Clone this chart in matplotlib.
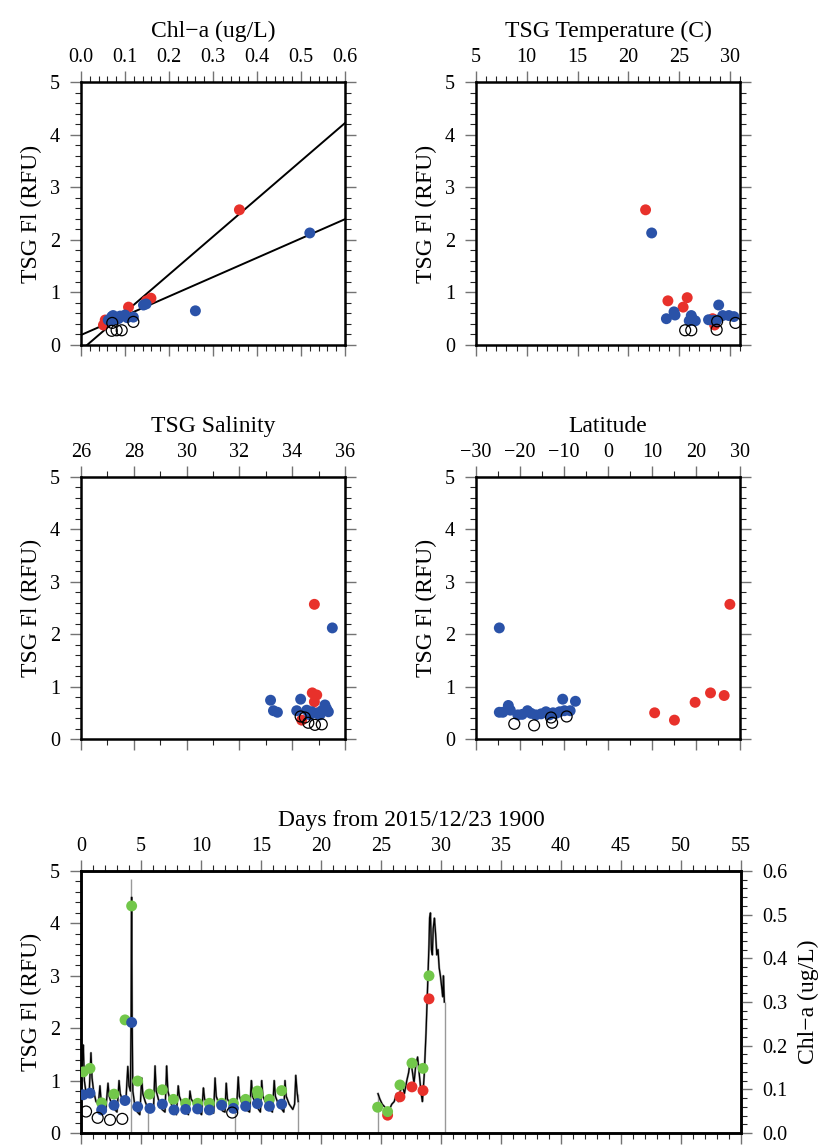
import numpy as np
import matplotlib
matplotlib.use("Agg")
import matplotlib.pyplot as plt
from matplotlib.ticker import MultipleLocator, FormatStrFormatter

plt.rcParams['font.family'] = ['Liberation Serif', 'DejaVu Serif']

RED = '#e8312b'
BLUE = '#2a52a8'
GREEN = '#72c74a'

# --- panel 1: Chl-a vs TSG Fl
red_chl = [0.051, 0.055, 0.108, 0.149, 0.159, 0.36]
red_fl = [0.38, 0.475, 0.72, 0.84, 0.89, 2.57]
blue_chl = [0.062, 0.070, 0.073, 0.073, 0.085, 0.089, 0.100, 0.105, 0.119, 0.142, 0.148, 0.26, 0.52]
blue_fl = [0.475, 0.54, 0.56, 0.475, 0.50, 0.55, 0.57, 0.52, 0.53, 0.76, 0.78, 0.65, 2.13]
open_chl = [0.071, 0.070, 0.081, 0.0925, 0.119]
open_fl = [0.42, 0.27, 0.28, 0.28, 0.44]
# regression lines (slope, intercept)
fit_red = (7.2, -0.10)
fit_blue = (3.67, 0.19)

# --- panel 2: temperature
red_temp = [21.7, 23.9, 25.4, 25.8, 28.3, 28.5]
red_fl_t = [2.57, 0.84, 0.72, 0.90, 0.50, 0.38]
blue_temp = [22.3, 23.75, 24.5, 24.6, 26.0, 26.2, 26.3, 26.6, 27.9, 28.4, 28.7, 28.9, 29.3, 29.9, 30.4]
blue_fl_t = [2.13, 0.50, 0.63, 0.57, 0.46, 0.56, 0.50, 0.46, 0.48, 0.47, 0.47, 0.76, 0.56, 0.56, 0.54]
open_temp = [25.6, 26.2, 28.7, 28.75, 30.55]
open_fl_t = [0.28, 0.28, 0.29, 0.45, 0.42]

# --- panel 3: salinity
red_sal = [34.84, 34.76, 34.93, 34.84, 34.36, 34.95]
red_fl_s = [2.57, 0.88, 0.84, 0.71, 0.36, 0.50]
blue_sal = [35.52, 33.18, 33.29, 33.44, 34.32, 34.17, 34.55, 34.74, 34.93, 35.12, 35.24, 35.37, 35.05, 34.67, 35.3]
blue_fl_s = [2.12, 0.74, 0.54, 0.51, 0.76, 0.54, 0.55, 0.52, 0.49, 0.54, 0.65, 0.52, 0.46, 0.46, 0.58]
open_sal = [34.32, 34.48, 34.61, 34.86, 35.12]
open_fl_s = [0.43, 0.41, 0.31, 0.27, 0.28]

# --- panel 4: latitude
red_lat = [10.6, 15.1, 19.8, 23.3, 26.4, 27.7]
red_fl_l = [0.50, 0.36, 0.70, 0.88, 0.83, 2.57]
blue_lat = [-24.7, -24.7, -23.9, -22.65, -22.2, -20.5, -19.5, -18.3, -17.5, -16.4, -15.2, -14.1,
            -13.3, -12.5, -11.8, -11.0, -10.3, -9.9, -8.6, -7.4]
blue_fl_l = [2.12, 0.51, 0.51, 0.64, 0.55, 0.46, 0.47, 0.54, 0.49, 0.46, 0.48, 0.52,
             0.46, 0.50, 0.49, 0.52, 0.76, 0.54, 0.54, 0.72]
open_lat = [-21.3, -16.8, -12.7, -12.95, -9.4]
open_fl_l = [0.29, 0.26, 0.31, 0.41, 0.43]

# --- bottom: time series
seg1_day = [0.00, 0.10, 0.19, 0.28, 0.40, 0.55, 0.70, 0.83, 0.92, 1.05, 1.25, 1.45, 1.58, 1.68, 1.85,
            2.05, 2.25, 2.35, 2.55, 2.80, 3.00, 3.17, 3.27, 3.50, 3.75, 3.90, 4.00, 4.12, 4.18, 4.22,
            4.26, 4.32, 4.50, 4.70, 4.90, 5.06, 5.15, 5.35, 5.60, 5.85, 6.05, 6.17, 6.27, 6.50, 6.75,
            7.00, 7.14, 7.24, 7.45, 7.70, 7.95, 8.10, 8.20, 8.45, 8.70, 8.95, 9.08, 9.18, 9.45, 9.75,
            10.05, 10.20, 10.30, 10.55, 10.80, 11.05, 11.17, 11.27, 11.50, 11.80, 12.00, 12.10, 12.20,
            12.45, 12.70, 12.95, 13.10, 13.20, 13.45, 13.75, 14.05, 14.20, 14.30, 14.55, 14.80, 14.95,
            15.06, 15.16, 15.45, 15.75, 15.95, 16.10, 16.20, 16.45, 16.75, 16.90, 17.00, 17.10, 17.35,
            17.65, 17.80, 17.90, 18.00, 18.10]
seg1_fl = [0.85, 1.30, 1.68, 1.00, 0.80, 0.70, 0.85, 1.53, 1.05, 0.80, 0.60, 0.55, 0.90, 0.60, 0.45,
           0.40, 0.95, 0.70, 0.55, 0.45, 0.40, 1.00, 0.75, 0.60, 0.65, 1.27, 0.90, 0.80, 2.30, 4.50,
           2.20, 0.80, 0.50, 0.40, 0.35, 1.05, 0.75, 0.60, 0.45, 0.40, 0.50, 1.28, 0.80, 0.60, 0.45,
           0.40, 1.28, 0.80, 0.60, 0.45, 0.35, 0.90, 0.70, 0.55, 0.42, 0.35, 0.80, 0.65, 0.55, 0.42,
           0.35, 0.86, 0.65, 0.55, 0.42, 0.38, 1.05, 0.70, 0.55, 0.42, 0.40, 0.95, 0.65,
           0.55, 0.40, 0.40, 1.07, 0.70, 0.55, 0.45, 0.40, 1.00, 0.70, 0.55, 0.45, 0.40,
           1.00, 0.70, 0.55, 0.45, 0.40, 1.00, 0.70, 0.55, 0.45, 0.40, 1.00, 0.70, 0.55,
           0.45, 0.55, 1.10, 0.80, 0.60]
seg2_day = [24.75, 24.90, 25.10, 25.30, 25.50, 25.70, 25.90, 26.10, 26.30, 26.45, 26.60, 26.80, 26.95,
            27.15, 27.30, 27.45, 27.60, 27.75, 27.90, 28.05, 28.20, 28.35, 28.45, 28.60, 28.75, 28.90,
            29.00, 29.05, 29.12, 29.20, 29.28, 29.35, 29.45, 29.55, 29.65, 29.75, 29.85, 29.95, 30.05,
            30.15, 30.20, 30.28]
seg2_fl = [0.75, 0.65, 0.55, 0.50, 0.40, 0.45, 0.55, 0.60, 0.75, 0.60, 0.80, 0.90, 0.75,
           1.00, 1.15, 1.40, 1.20, 0.95, 1.30, 1.45, 1.10, 0.75, 0.60, 1.10, 1.90, 2.90,
           3.60, 4.10, 4.20, 3.50, 3.40, 3.90, 4.10, 3.80, 3.40, 3.50, 3.15, 3.00, 2.80,
           2.60, 3.00, 2.50]
gray_day = [4.2, 5.62, 12.8, 18.1, 24.75, 30.35]
gray_top = [4.85, 0.5, 0.45, 0.75, 0.75, 2.5]

green_day = [0.19, 0.75, 1.72, 2.75, 3.67, 4.22, 4.72, 5.7, 6.78, 7.7, 8.72, 9.72, 10.7, 11.72, 12.7,
             13.72, 14.7, 14.75, 15.7, 16.72, 24.72, 25.55, 26.58, 27.58, 28.5, 29.0]
green_chl = [0.14, 0.148, 0.069, 0.089, 0.259, 0.52, 0.119, 0.089, 0.099, 0.077, 0.068, 0.068, 0.068,
             0.068, 0.068, 0.077, 0.096, 0.088, 0.077, 0.097, 0.059, 0.049, 0.11, 0.16, 0.148, 0.36]
blue_day = [0.19, 0.75, 1.72, 2.75, 3.67, 4.22, 4.72, 5.75, 6.78, 7.75, 8.72, 9.72, 10.7, 11.72, 12.7,
            13.72, 14.7, 15.7, 16.72]
blue_fl_d = [0.73, 0.76, 0.44, 0.53, 0.62, 2.11, 0.50, 0.47, 0.55, 0.44, 0.45, 0.46, 0.44, 0.53, 0.47,
             0.51, 0.56, 0.51, 0.55]
red_day = [25.55, 26.58, 27.58, 28.5, 29.0]
red_fl_d = [0.34, 0.69, 0.88, 0.81, 2.56]
open_day = [0.42, 1.39, 2.42, 3.44, 12.6]
open_fl_d = [0.41, 0.29, 0.25, 0.27, 0.39]

MS = 62
TICK_FS = 14.5
LAB_FS = 17


def style(ax, xmaj, xmin, right=True):
    for s in ax.spines.values():
        s.set_linewidth(1.8)
    ax.xaxis.set_major_locator(MultipleLocator(xmaj))
    ax.xaxis.set_minor_locator(MultipleLocator(xmin))
    ax.yaxis.set_major_locator(MultipleLocator(1))
    ax.yaxis.set_minor_locator(MultipleLocator(0.2))
    ax.set_ylim(0, 5)
    ax.tick_params(which='both', direction='out', top=True, bottom=True, left=True, right=right,
                   labeltop=True, labelbottom=False, labelsize=TICK_FS)
    ax.tick_params(axis='x', which='major', pad=3)
    ax.tick_params(axis='y', which='major', pad=7)
    ax.tick_params(which='major', length=8, width=1.0, color='0.45')
    ax.tick_params(which='minor', length=4, width=0.8, color='0.15')
    ax.xaxis.set_label_position('top')
    ax.set_ylabel('TSG Fl (RFU)', fontsize=LAB_FS, labelpad=6)


def dots(ax, rx, ry, bx, by, ox, oy):
    ax.scatter(rx, ry, s=MS, color=RED, edgecolors='none', zorder=3, clip_on=False)
    ax.scatter(bx, by, s=MS, color=BLUE, edgecolors='none', zorder=4, clip_on=False)
    ax.scatter(ox, oy, s=MS, facecolors='none', edgecolors='k', linewidths=0.9, zorder=5, clip_on=False)


fig = plt.figure(figsize=(8.26, 11.48), dpi=100)
W, H = 826, 1148


def rect(x0, y0, x1, y1):
    return [x0 / W, 1 - y1 / H, (x1 - x0) / W, (y1 - y0) / H]


ax1 = fig.add_axes(rect(81, 82, 345, 345))
ax2 = fig.add_axes(rect(476, 82, 740, 345))
ax3 = fig.add_axes(rect(81, 477, 345, 739))
ax4 = fig.add_axes(rect(476, 477, 740, 739))
ax5 = fig.add_axes(rect(81, 871, 741, 1133))

# panel 1
xx = np.array([0, 0.6])
for m, c in [fit_red, fit_blue]:
    ax1.plot(xx, m * xx + c, color='k', lw=1.4, zorder=2)
dots(ax1, red_chl, red_fl, blue_chl, blue_fl, open_chl, open_fl)
ax1.set_xlim(0, 0.6)
style(ax1, 0.1, 0.02)
ax1.xaxis.set_major_formatter(FormatStrFormatter('%.1f'))
ax1.set_xlabel('Chl\u2212a (ug/L)', fontsize=LAB_FS, labelpad=8)

# panel 2
dots(ax2, red_temp, red_fl_t, blue_temp, blue_fl_t, open_temp, open_fl_t)
ax2.set_xlim(5, 31)
style(ax2, 5, 1)
ax2.set_xlabel('TSG Temperature (C)', fontsize=LAB_FS, labelpad=8)

# panel 3
dots(ax3, red_sal, red_fl_s, blue_sal, blue_fl_s, open_sal, open_fl_s)
ax3.set_xlim(26, 36)
style(ax3, 2, 1)
ax3.set_xlabel('TSG Salinity', fontsize=LAB_FS, labelpad=8)

# panel 4
dots(ax4, red_lat, red_fl_l, blue_lat, blue_fl_l, open_lat, open_fl_l)
ax4.set_xlim(-30, 30)
style(ax4, 10, 5)
ax4.set_xlabel('Latitude', fontsize=LAB_FS, labelpad=8)

# bottom panel
ax5.vlines(gray_day, 0, gray_top, color='0.6', lw=1.0, zorder=1)
ax5.plot(seg1_day, seg1_fl, color='0.6', lw=1.6, zorder=1)
ax5.plot(seg2_day, seg2_fl, color='0.6', lw=1.6, zorder=1)
ax5.plot(seg1_day, seg1_fl, color='k', lw=0.9, zorder=2)
ax5.plot(seg2_day, seg2_fl, color='k', lw=0.9, zorder=2)
ax5.set_xlim(0, 55)
style(ax5, 5, 1, right=False)
ax5.set_xlabel('Days from 2015/12/23 1900', fontsize=LAB_FS, labelpad=8)

ax6 = ax5.twinx()
ax6.set_ylim(0, 0.6)
ax6.yaxis.set_major_locator(MultipleLocator(0.1))
ax6.yaxis.set_minor_locator(MultipleLocator(0.02))
ax6.yaxis.set_major_formatter(FormatStrFormatter('%.1f'))
ax6.tick_params(which='both', direction='out', labelsize=TICK_FS)
ax6.tick_params(which='major', length=8, width=1.0, color='0.45', pad=7)
ax6.tick_params(which='minor', length=4, width=0.8, color='0.15')
for s in ax6.spines.values():
    s.set_linewidth(1.8)
ax6.set_ylabel('Chl\u2212a (ug/L)', fontsize=LAB_FS, labelpad=8)

ax6.scatter(red_day, red_fl_d, s=MS, color=RED, edgecolors='none', zorder=3, transform=ax5.transData)
ax6.scatter(green_day, green_chl, s=MS, color=GREEN, edgecolors='none', zorder=4)
ax6.scatter(blue_day, blue_fl_d, s=MS, color=BLUE, edgecolors='none', zorder=5, transform=ax5.transData)
ax6.scatter(open_day, open_fl_d, s=MS, facecolors='none', edgecolors='k', linewidths=0.9, zorder=6,
            transform=ax5.transData)

fig.savefig('out.png', dpi=100)
